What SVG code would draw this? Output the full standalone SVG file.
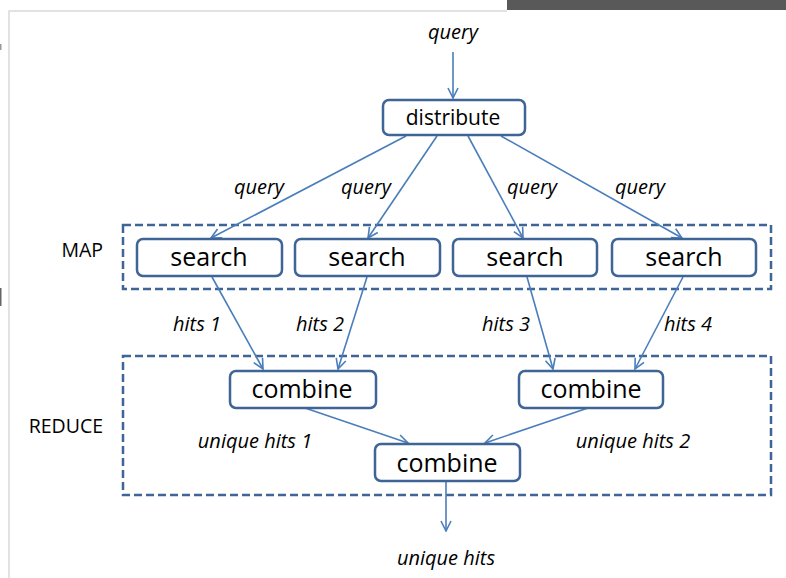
<svg xmlns="http://www.w3.org/2000/svg" width="786" height="578" viewBox="0 0 786 578">
<style>
.node rect{fill:#fff;stroke:#3E6595;stroke-width:2.5}
.nt{font-family:"Open Sans","Noto Sans",sans-serif;font-size:25px;fill:#000;text-anchor:middle}
.lbl{font-family:"Open Sans","Noto Sans",sans-serif;font-size:20px;font-style:italic;fill:#000;text-anchor:middle}
.grp{fill:none;stroke:#3E6595;stroke-width:2.5;stroke-dasharray:8 4}
.gl{font-family:"Open Sans","Noto Sans",sans-serif;font-size:19.5px;fill:#000;text-anchor:end}
.edges line{stroke:#4A7EBB;stroke-width:1.6;marker-end:url(#arr)}
</style>
<defs>
<marker id="arr" viewBox="0 0 12 12" refX="11" refY="6" markerWidth="12" markerHeight="12" markerUnits="userSpaceOnUse" orient="auto">
<path d="M1,1 L11,6 L1,11" fill="none" stroke="#4A7EBB" stroke-width="1.6"/>
</marker>
</defs>
<rect width="786" height="578" fill="#fff"/>
<rect x="507" y="0" width="279" height="10" fill="#595959"/>
<path d="M9,578 V11 H507" fill="none" stroke="#d9d9d9" stroke-width="1.5"/>
<rect x="0" y="288" width="1.5" height="18" fill="#666"/>
<rect x="0" y="44" width="1.5" height="6" fill="#999"/>

<g id="groups">
<rect class="grp" x="123" y="225" width="648" height="64"/>
<text class="gl" x="103" y="257">MAP</text>
<rect class="grp" x="123" y="356" width="648" height="139"/>
<text class="gl" x="103" y="433">REDUCE</text>
</g>

<g class="edges" id="connectors">
<line x1="453" y1="52" x2="453" y2="98"/>
<line x1="406" y1="136" x2="211" y2="238"/>
<line x1="437" y1="136" x2="368" y2="238"/>
<line x1="468" y1="136" x2="523" y2="238"/>
<line x1="501" y1="136" x2="682" y2="238"/>
<line x1="212" y1="277" x2="263" y2="369"/>
<line x1="367" y1="277" x2="338" y2="369"/>
<line x1="527" y1="277" x2="553" y2="369"/>
<line x1="683" y1="277" x2="635" y2="369"/>
<line x1="305" y1="408" x2="408" y2="443"/>
<line x1="588" y1="408" x2="485" y2="443"/>
<line x1="446" y1="481" x2="446" y2="531"/>
</g>

<g id="labels">
<text class="lbl" x="453" y="39">query</text>
<text class="lbl" x="259" y="194">query</text>
<text class="lbl" x="366" y="194">query</text>
<text class="lbl" x="532" y="194">query</text>
<text class="lbl" x="640" y="194">query</text>
<text class="lbl" x="197" y="331">hits 1</text>
<text class="lbl" x="320" y="331">hits 2</text>
<text class="lbl" x="506" y="331">hits 3</text>
<text class="lbl" x="688" y="331">hits 4</text>
<text class="lbl" x="255" y="448">unique hits 1</text>
<text class="lbl" x="633" y="448">unique hits 2</text>
<text class="lbl" x="446" y="565">unique hits</text>
</g>

<g id="distribute" class="node"><rect x="383" y="100" width="142" height="35" rx="6"/><text class="nt" x="453" y="125" style="font-size:21px">distribute</text></g>
<g id="search1" class="node"><rect x="137" y="239" width="145" height="37" rx="6"/><text class="nt" x="209" y="266">search</text></g>
<g id="search2" class="node"><rect x="295" y="239" width="145" height="37" rx="6"/><text class="nt" x="367" y="266">search</text></g>
<g id="search3" class="node"><rect x="453" y="239" width="144" height="37" rx="6"/><text class="nt" x="525" y="266">search</text></g>
<g id="search4" class="node"><rect x="612" y="239" width="144" height="37" rx="6"/><text class="nt" x="684" y="266">search</text></g>
<g id="combine1" class="node"><rect x="230" y="371" width="146" height="37" rx="6"/><text class="nt" x="302" y="398">combine</text></g>
<g id="combine2" class="node"><rect x="519" y="371" width="144" height="37" rx="6"/><text class="nt" x="591" y="398">combine</text></g>
<g id="combine3" class="node"><rect x="375" y="444" width="145" height="37" rx="6"/><text class="nt" x="447" y="472">combine</text></g>
</svg>
